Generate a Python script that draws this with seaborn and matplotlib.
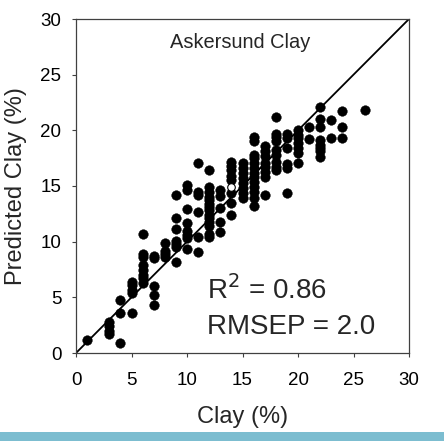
import numpy as np
import pandas as pd
import matplotlib
matplotlib.use("Agg")
import matplotlib.pyplot as plt
import seaborn as sns

# Measured clay (%) columns and their predicted values
clay_levels = [1, 3, 4, 5, 6, 7, 8, 9, 10, 11, 12, 13, 14, 15, 16, 17, 18, 19, 20, 21, 22, 23, 24, 26]
predicted = [
    [1.2],
    [2.8, 2.4, 2.0, 1.7],
    [4.8, 3.6, 0.9],
    [6.4, 6.1, 5.7, 5.4, 3.6],
    [10.7, 8.9, 8.6, 7.9, 7.5, 7.0, 6.7, 6.3],
    [8.7, 8.5, 6.0, 5.2, 4.3],
    [9.9, 9.2, 8.9, 8.6],
    [14.2, 12.1, 11.1, 10.1, 9.8, 9.5, 8.2],
    [15.1, 14.6, 12.9, 11.7, 11.0, 10.6, 10.3, 9.3],
    [17.1, 14.5, 14.2, 12.7, 10.4, 9.1],
    [16.4, 14.9, 14.5, 14.0, 13.7, 13.4, 13.1, 12.8, 12.4, 12.1, 11.8, 11.4, 10.7, 10.4],
    [14.6, 14.1, 13.0, 11.8, 10.9],
    [17.2, 16.8, 16.4, 15.9, 15.5, 14.4, 13.5, 12.4],
    [17.1, 16.6, 16.2, 15.7, 15.3, 14.8, 14.4, 13.9],
    [19.4, 19.0, 17.8, 17.5, 17.1, 16.6, 16.2, 15.8, 15.4, 14.9, 14.5, 13.9, 13.2],
    [18.6, 18.1, 17.7, 17.1, 16.7, 16.3, 15.85, 14.2],
    [21.2, 19.7, 19.4, 19.0, 18.2, 17.8, 17.2, 16.7, 16.4],
    [19.7, 19.3, 18.4, 17.0, 16.6, 14.4],
    [20.0, 19.6, 19.3, 18.85, 18.4, 18.0, 17.1],
    [20.3, 19.2],
    [22.1, 21.0, 20.3, 19.1, 18.7, 18.4, 18.1, 17.6],
    [20.9, 19.3],
    [21.7, 20.3, 19.3],
    [21.8],
]
# single hollow marker
open_x = [14]
open_y = [14.9]

line_xy = [0, 30]
ticks = [0, 5, 10, 15, 20, 25, 30]

rows = [(x, y) for x, ys in zip(clay_levels, predicted) for y in ys]
df = pd.DataFrame(rows, columns=["clay", "pred"])

sns.set_style("white")
plt.rcParams["font.family"] = ["Liberation Sans", "DejaVu Sans"]

fig = plt.figure(figsize=(4.44, 4.41), dpi=100)
ax = fig.add_axes([76/444, 1-353/441, 333/444, 334/441])

ax.plot(line_xy, line_xy, color="black", lw=1.3, zorder=1)
sns.scatterplot(data=df, x="clay", y="pred", ax=ax, color="black", s=48,
                edgecolor="black", linewidth=0.3, zorder=2)
ax.scatter(open_x, open_y, s=30, facecolor="white", edgecolor="black", linewidth=0.8, zorder=3)

ax.set_xlim(0, 30)
ax.set_ylim(0, 30)
ax.set_xticks(ticks)
ax.set_yticks(ticks)
ax.tick_params(axis="both", direction="out", length=3, width=0.8, labelsize=13.5,
               bottom=True, left=True, top=False, right=False, colors="#404040",
               labelcolor="black")
ax.tick_params(axis="x", pad=10.5)
ax.tick_params(axis="y", pad=7.5)
for sp in ax.spines.values():
    sp.set_color("#404040")
    sp.set_linewidth(0.9)

ax.set_xlabel("Clay (%)", fontsize=17, labelpad=12.5)
ax.set_ylabel("Predicted Clay (%)", fontsize=17, labelpad=10)

ax.text(14.8, 27.9, "Askersund Clay", ha="center", va="center", fontsize=14.4)
ax.text(11.8, 4.85, "R$^2$ = 0.86", ha="left", va="baseline", fontsize=20)
ax.text(11.8, 1.7, "RMSEP = 2.0", ha="left", va="baseline", fontsize=20)

fig.patches.append(matplotlib.patches.Rectangle((0, 0), 1, 9/441, transform=fig.transFigure,
                                                 facecolor="#7CBDD0", edgecolor="none"))
fig.savefig("out.png", dpi=100)
